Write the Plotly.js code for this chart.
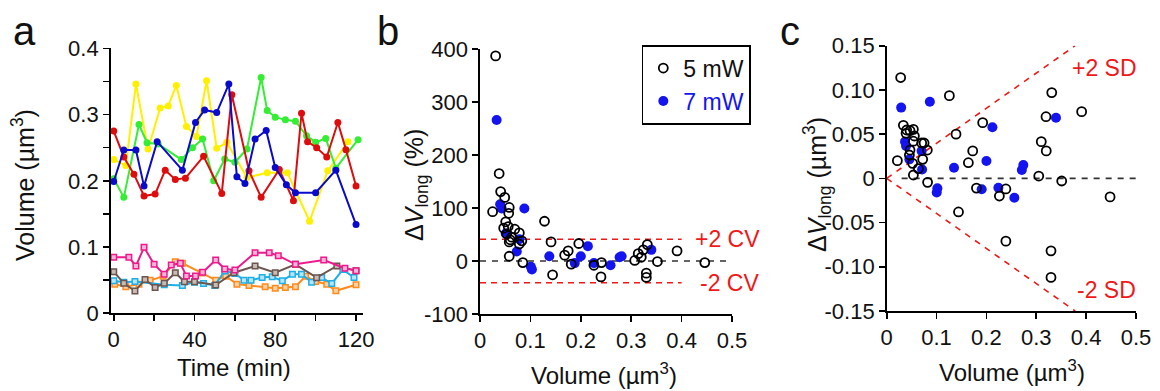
<!DOCTYPE html>
<html>
<head>
<meta charset="utf-8">
<script src="https://cdn.plot.ly/plotly-3.0.1.min.js"></script>
<style>html,body{margin:0;padding:0;background:#fff;}#chart{width:1160px;height:391px;}</style>
</head>
<body>
<div id="chart"></div>
<script>
// ---------- Panel a: volume over time ----------
const yellowT = [0, 6, 11, 17, 23, 27, 31, 36, 41, 46, 51, 56, 66, 76, 86, 97, 106, 116];
const yellowV = [0.232, 0.223, 0.346, 0.248, 0.310, 0.313, 0.344, 0.282, 0.267, 0.351, 0.249, 0.258, 0.205, 0.212, 0.212, 0.139, 0.215, 0.259];
const blueT = [0, 5, 11, 15, 21.5, 34, 40.5, 45, 51, 57, 61, 65, 70, 75.5, 80, 85.5, 90, 100, 110, 120];
const blueV = [0.199, 0.2465, 0.2465, 0.192, 0.259, 0.216, 0.288, 0.307, 0.303, 0.346, 0.206, 0.196, 0.263, 0.276, 0.220, 0.194, 0.182, 0.182, 0.216, 0.134];
const greenT = [0, 5, 12.5, 16.5, 22, 33.5, 39, 44, 49.5, 55, 60, 66, 73, 76, 80, 85, 90, 95.5, 100, 105, 110, 121];
const greenV = [0.203, 0.175, 0.285, 0.2575, 0.2555, 0.232, 0.250, 0.263, 0.200, 0.233, 0.228, 0.248, 0.356, 0.306, 0.296, 0.292, 0.290, 0.268, 0.258, 0.264, 0.219, 0.262];
const redT = [0, 5, 10, 15, 20.5, 25.5, 30.5, 35.5, 44.5, 53.5, 58.5, 67, 73, 82, 89, 93, 96, 100.5, 105.5, 111, 115, 120];
const redV = [0.275, 0.236, 0.210, 0.177, 0.180, 0.216, 0.202, 0.204, 0.237, 0.181, 0.330, 0.215, 0.175, 0.217, 0.170, 0.302, 0.259, 0.250, 0.236, 0.288, 0.247, 0.192];
const pinkT = [0, 7.5, 11, 15, 20, 25, 28.5, 33, 36, 40.5, 44, 50.5, 55, 60, 70, 77, 81.5, 90, 104, 114.5, 120];
const pinkV = [0.0845, 0.0845, 0.0714, 0.0996, 0.074, 0.0588, 0.0729, 0.0754, 0.0562, 0.0562, 0.0618, 0.0805, 0.0668, 0.0653, 0.0915, 0.0915, 0.087, 0.074, 0.0805, 0.068, 0.0644];
const brownT = [0, 5, 10.5, 15.5, 20.5, 25, 30.5, 35, 40, 50.5, 59.5, 70, 80, 90, 100.5, 110.5, 120];
const brownV = [0.0628, 0.0452, 0.0336, 0.051, 0.039, 0.0452, 0.0613, 0.0477, 0.0477, 0.0427, 0.0613, 0.0714, 0.0613, 0.074, 0.0538, 0.0714, 0.0644];
const cyanT = [0, 5, 10.5, 25, 34, 40, 44.5, 50, 55, 60, 64.5, 68, 73.5, 78.5, 83.5, 88.5, 93, 98, 103, 108, 113.5, 119];
const cyanV = [0.049, 0.047, 0.048, 0.043, 0.042, 0.047, 0.045, 0.042, 0.064, 0.060, 0.050, 0.050, 0.054, 0.055, 0.049, 0.059, 0.059, 0.047, 0.054, 0.045, 0.066, 0.054];
const orangeT = [0.5, 6, 12.5, 18, 24.5, 30.5, 34, 43.5, 50.5, 55.5, 61, 67, 75, 80, 85, 90, 95, 100, 105.5, 110, 120];
const orangeV = [0.044, 0.040, 0.044, 0.050, 0.056, 0.078, 0.0755, 0.061, 0.050, 0.056, 0.044, 0.042, 0.040, 0.038, 0.039, 0.040, 0.056, 0.048, 0.044, 0.034, 0.043];

// ---------- Panel b: percentage change vs volume ----------
const b5X = [0.031, 0.025, 0.038, 0.041, 0.049, 0.058, 0.057, 0.051, 0.056, 0.047, 0.053, 0.060, 0.069, 0.078, 0.083, 0.058, 0.063, 0.078, 0.058, 0.085, 0.128, 0.141, 0.144, 0.168, 0.175, 0.181, 0.196, 0.226, 0.241, 0.240, 0.307, 0.314, 0.324, 0.320, 0.332, 0.330, 0.330, 0.352, 0.391, 0.446];
const b5Y = [387, 93, 165, 131, 120, 101, 90, 74, 65, 62, 51, 40, 60, 53, 38, 36, 45, 32, 9, -3, 75, 36, -26, 11, 19, -6, 33, -8, -3, -30, 1, 14, 21, 7, 31, -23, -31, -1, 19, -3];
const b7X = [0.033, 0.040, 0.043, 0.088, 0.051, 0.078, 0.073, 0.101, 0.103, 0.1375, 0.188, 0.200, 0.214, 0.226, 0.259, 0.277, 0.281, 0.340];
const b7Y = [266, 107, 99, 99, 52, 41, 18, -11, -16, 9, -4, 9, 28, -4, -8, 7, 9, 21];
const cvLevels = [41, -41];
const cvLineX = [0, 0.40];
const zeroLineBX = [0, 0.5];

// ---------- Panel c: absolute change vs volume ----------
const c5X = [0.028, 0.1257, 0.0334, 0.040, 0.0468, 0.0535, 0.0388, 0.0555, 0.0535, 0.0702, 0.075, 0.139, 0.0468, 0.0815, 0.0455, 0.0722, 0.0214, 0.052, 0.0635, 0.0535, 0.082, 0.1725, 0.1638, 0.180, 0.144, 0.1925, 0.226, 0.239, 0.239, 0.305, 0.310, 0.320, 0.3195, 0.331, 0.3295, 0.3295, 0.351, 0.391, 0.448];
const c5Y = [0.114, 0.0935, 0.060, 0.0547, 0.0539, 0.0554, 0.0509, 0.0479, 0.042, 0.040, 0.040, 0.050, 0.032, 0.032, 0.0264, 0.0215, 0.020, 0.017, 0.011, 0.0038, -0.0045, 0.031, 0.0177, -0.011, -0.038, 0.063, -0.020, -0.012, -0.071, 0.0026, 0.0415, 0.031, 0.0697, 0.097, -0.082, -0.112, -0.003, 0.0754, -0.021];
const c7X = [0.029, 0.0865, 0.0368, 0.0388, 0.0455, 0.070, 0.071, 0.1016, 0.1003, 0.135, 0.1905, 0.200, 0.212, 0.224, 0.256, 0.271, 0.274, 0.3395];
const c7Y = [0.080, 0.0867, 0.0415, 0.0366, 0.0215, 0.031, 0.010, -0.0113, -0.016, 0.012, -0.0124, 0.0196, 0.0577, -0.0106, -0.0219, 0.0094, 0.015, 0.0686];
const sdLineX = [0, 0.378];
const sdUpperY = [0, 0.15];
const sdLowerY = [0, -0.15];
const zeroLineCX = [0.03, 0.5];

// ---------- tick labels ----------
const aXTicks = [0, 40, 80, 120];
const aXText = ['0', '40', '80', '120'];
const aYTicks = [0, 0.1, 0.2, 0.3, 0.4];
const aYText = ['0', '0.1', '0.2', '0.3', '0.4'];
const volTicks = [0, 0.1, 0.2, 0.3, 0.4, 0.5];
const volText = ['0', '0.1', '0.2', '0.3', '0.4', '0.5'];
const bYTicks = [-100, 0, 100, 200, 300, 400];
const bYText = ['-100', '0', '100', '200', '300', '400'];
const cYTicks = [-0.15, -0.1, -0.05, 0, 0.05, 0.1, 0.15];
const cYText = ['-0.15', '-0.10', '-0.05', '0', '0.05', '0.10', '0.15'];

const FONT = 'Liberation Sans, Arial, sans-serif';
const BLUE7 = '#1414f0';
const RED = '#f01818';

const traces = [];
function seriesA(t, v, col, open, fill) {
  traces.push({
    x: t, y: v, xaxis: 'x', yaxis: 'y', type: 'scatter', mode: 'lines+markers',
    showlegend: false, cliponaxis: false,
    line: {color: col, width: 2},
    marker: open ? {symbol: 'square', size: 5.5, color: fill, line: {color: col, width: 1.5}}
                 : {symbol: 'circle', size: 7, color: col}
  });
}
seriesA(orangeT, orangeV, '#ff8a1e', true, '#ffd2a0');
seriesA(cyanT, cyanV, '#1eaee8', true, '#b5e6fa');
seriesA(brownT, brownV, '#6b5650', true, '#c8bab5');
seriesA(pinkT, pinkV, '#ee1a8c', true, '#f9b3da');
seriesA(yellowT, yellowV, '#fff000', false);
seriesA(greenT, greenV, '#33ee33', false);
seriesA(redT, redV, '#dd0d0d', false);
seriesA(blueT, blueV, '#0a0acc', false);

// panel b reference lines
cvLevels.forEach(lv => traces.push({x: cvLineX, y: [lv, lv], xaxis: 'x2', yaxis: 'y2', mode: 'lines', showlegend: false, hoverinfo: 'skip', line: {color: RED, width: 1.6, dash: '6px,5px'}}));
traces.push({x: zeroLineBX, y: [0, 0], xaxis: 'x2', yaxis: 'y2', mode: 'lines', showlegend: false, hoverinfo: 'skip', line: {color: '#333', width: 1.6, dash: '6px,6px'}});
traces.push({x: b7X, y: b7Y, xaxis: 'x2', yaxis: 'y2', mode: 'markers', name: '<span style="color:' + BLUE7 + '">7 mW</span>', legendrank: 2, cliponaxis: false,
  marker: {symbol: 'circle', size: 10, color: BLUE7}});
traces.push({x: b5X, y: b5Y, xaxis: 'x2', yaxis: 'y2', mode: 'markers', name: '5 mW', legendrank: 1, cliponaxis: false,
  marker: {symbol: 'circle-open', size: 9, color: '#000', line: {width: 1.8}}});

// panel c reference lines
traces.push({x: sdLineX, y: sdUpperY, xaxis: 'x3', yaxis: 'y3', mode: 'lines', showlegend: false, hoverinfo: 'skip', line: {color: RED, width: 1.6, dash: '6px,6px'}});
traces.push({x: sdLineX, y: sdLowerY, xaxis: 'x3', yaxis: 'y3', mode: 'lines', showlegend: false, hoverinfo: 'skip', line: {color: RED, width: 1.6, dash: '6px,6px'}});
traces.push({x: zeroLineCX, y: [0, 0], xaxis: 'x3', yaxis: 'y3', mode: 'lines', showlegend: false, hoverinfo: 'skip', line: {color: '#333', width: 1.6, dash: '6px,6px'}});
traces.push({x: c7X, y: c7Y, xaxis: 'x3', yaxis: 'y3', mode: 'markers', showlegend: false, cliponaxis: false,
  marker: {symbol: 'circle', size: 10, color: BLUE7}});
traces.push({x: c5X, y: c5Y, xaxis: 'x3', yaxis: 'y3', mode: 'markers', showlegend: false, cliponaxis: false,
  marker: {symbol: 'circle-open', size: 9, color: '#000', line: {width: 1.8}}});

const W = 1160, H = 391;
const px = v => v / W, py = v => 1 - v / H;

function axis(dom, range, tv, tt, anchor, extra) {
  return Object.assign({
    domain: dom, range: range, anchor: anchor, tickmode: 'array', tickvals: tv, ticktext: tt,
    showline: true, linecolor: '#000', linewidth: 1.6, ticks: 'outside', ticklen: 6, tickwidth: 1.6, tickcolor: '#000',
    showgrid: false, zeroline: false, tickfont: {family: FONT, size: 22, color: '#111'}
  }, extra || {});
}
const minorTicks = d => ({minor: {tickmode: 'linear', tick0: 0, dtick: d, ticks: 'outside', ticklen: 6, tickwidth: 1.6, tickcolor: '#000', showgrid: false}});

const ann = [];
function txt(x, y, text, size, opts) {
  ann.push(Object.assign({xref: 'paper', yref: 'paper', x: px(x), y: py(y), text: text, showarrow: false,
    xanchor: 'center', yanchor: 'middle', font: {family: FONT, size: size, color: '#111'}}, opts || {}));
}
// panel letters
txt(24, 31, 'a', 40);
txt(388, 31, 'b', 40);
txt(790, 31, 'c', 40);
// axis titles
txt(23, 185, 'Volume (µm<sup>3</sup>)', 25, {textangle: -90});
txt(234, 367, 'Time (min)', 24);
txt(416, 185, 'Δ<i>V</i><sub>long</sub> (%)', 25, {textangle: -90});
txt(604, 374, 'Volume (µm<sup>3</sup>)', 24);
txt(817, 185, 'Δ<i>V</i><sub>long</sub> (µm<sup>3</sup>)', 25, {textangle: -90});
txt(1012, 371, 'Volume (µm<sup>3</sup>)', 24);
// CV / SD labels
ann.push({xref: 'x2', yref: 'y2', x: 0.423, y: 41, text: '+2 CV', showarrow: false, xanchor: 'left', yanchor: 'middle', font: {family: FONT, size: 23, color: RED}});
ann.push({xref: 'x2', yref: 'y2', x: 0.433, y: -41, text: '-2 CV', showarrow: false, xanchor: 'left', yanchor: 'middle', font: {family: FONT, size: 23, color: RED}});
ann.push({xref: 'x3', yref: 'y3', x: 0.3676, y: 0.1244, text: '+2 SD', showarrow: false, xanchor: 'left', yanchor: 'middle', font: {family: FONT, size: 23, color: RED}});
ann.push({xref: 'x3', yref: 'y3', x: 0.378, y: -0.126, text: '-2 SD', showarrow: false, xanchor: 'left', yanchor: 'middle', font: {family: FONT, size: 23, color: RED}});

const layout = {
  width: W, height: H, margin: {l: 0, r: 0, t: 0, b: 0},
  paper_bgcolor: '#fff', plot_bgcolor: 'rgba(0,0,0,0)',
  font: {family: FONT, size: 21, color: '#111'},
  xaxis: axis([px(110.7), px(363.3)], [-1.5, 123.6], aXTicks, aXText, 'y', Object.assign({ticklabelstandoff: 0}, minorTicks(20))),
  yaxis: axis([py(313.3), py(48.3)], [0, 0.4], aYTicks, aYText, 'x', minorTicks(0.05)),
  xaxis2: axis([px(480), px(732)], [0, 0.5], volTicks, volText, 'y2', {ticklabelstandoff: 0}),
  yaxis2: axis([py(314), py(49)], [-100, 400], bYTicks, bYText, 'x2'),
  xaxis3: axis([px(886.7), px(1136)], [0, 0.5], volTicks, volText, 'y3', {ticklabelstandoff: 0}),
  yaxis3: axis([py(311), py(45.7)], [-0.15, 0.15], cYTicks, cYText, 'x3'),
  showlegend: true,
  legend: {x: px(641.7), y: py(45), xanchor: 'left', yanchor: 'top', bgcolor: '#fff', bordercolor: '#000', borderwidth: 1.6,
    font: {family: FONT, size: 23, color: '#111'}, tracegroupgap: 0},
  annotations: ann
};

Plotly.newPlot('chart', traces, layout, {staticPlot: true, displayModeBar: false});
</script>
</body>
</html>
